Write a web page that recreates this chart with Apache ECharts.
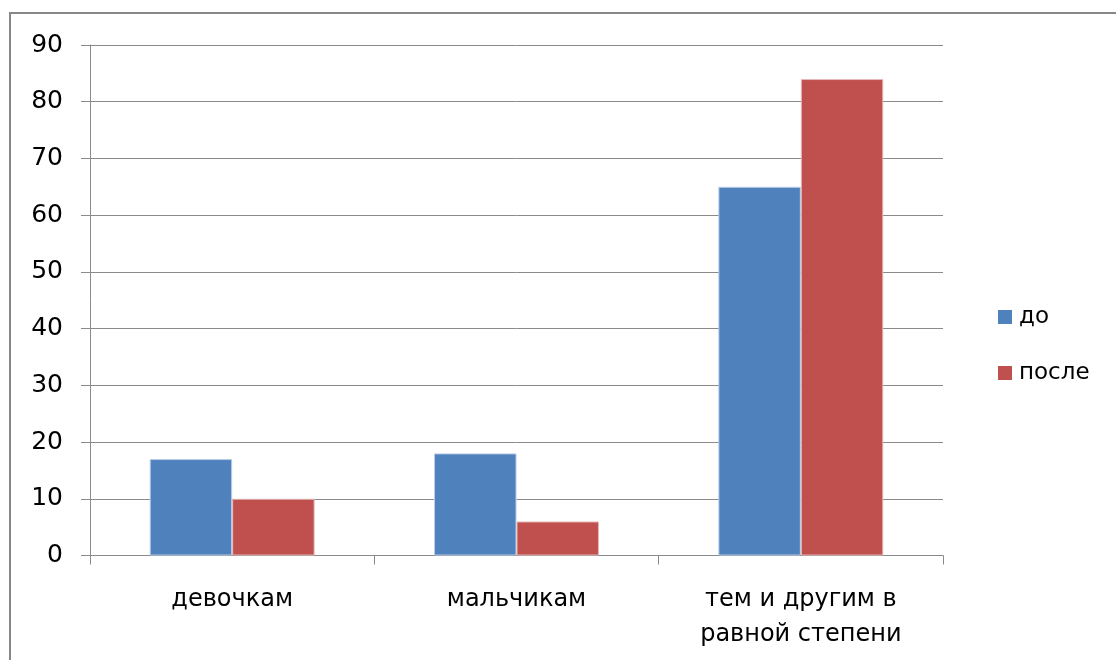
<!DOCTYPE html>
<html>
<head>
<meta charset="utf-8">
<script src="https://cdn.jsdelivr.net/npm/echarts@6/dist/echarts.min.js"></script>
<style>
html,body{margin:0;padding:0;background:#fff;}
#chart{width:1116px;height:660px;}
</style>
</head>
<body>
<div id="chart"></div>
<script>
const categories = ['девочкам', 'мальчикам', 'тем и другим в равной степени'];
const seriesNames = ['до', 'после'];
const valuesBefore = [17, 18, 65];
const valuesAfter = [10, 6, 84];
const yTicks = { min: 0, max: 90, interval: 10 };

const FONT = 'DejaVu Sans';
function wrapWords(text, maxChars) {
  const words = text.split(' ');
  const lines = [];
  let cur = '';
  words.forEach(w => {
    const next = cur ? cur + ' ' + w : w;
    if (next.length > maxChars && cur) { lines.push(cur); cur = w; }
    else cur = next;
  });
  if (cur) lines.push(cur);
  return lines.join('\n');
}

const chart = echarts.init(document.getElementById('chart'), null, { renderer: 'canvas' });
chart.setOption({
  backgroundColor: '#ffffff',
  animation: false,
  graphic: [{
    type: 'rect',
    shape: { x: 10, y: 13, width: 1200, height: 700 },
    style: { fill: 'none', stroke: '#878787', lineWidth: 2 },
    silent: true
  }],
  grid: { left: 90, right: 173, top: 45, bottom: 104.5, containLabel: false, outerBoundsMode: 'none' },
  legend: {
    orient: 'vertical',
    left: 993,
    top: 300,
    itemWidth: 14,
    itemHeight: 14,
    itemGap: 32,
    icon: 'rect',
    itemStyle: { borderWidth: 0 },
    textStyle: { fontFamily: FONT, fontSize: 23, color: '#000', lineHeight: 24, padding: [0, 0, 0, 2] },
    data: seriesNames
  },
  xAxis: {
    type: 'category',
    data: categories,
    axisLine: { lineStyle: { color: '#8a8a8a', width: 1 } },
    axisTick: { show: true, length: 9, alignWithLabel: false, lineStyle: { color: '#8a8a8a' } },
    axisLabel: {
      fontFamily: FONT, fontSize: 24, color: '#000', margin: 27,
      lineHeight: 35, interval: 0,
      formatter: v => wrapWords(v, 14)
    },
    splitLine: { show: false }
  },
  yAxis: {
    type: 'value',
    min: yTicks.min, max: yTicks.max, interval: yTicks.interval,
    axisLine: { show: true, lineStyle: { color: '#8a8a8a', width: 1 } },
    axisTick: { show: true, length: 9, lineStyle: { color: '#8a8a8a' } },
    axisLabel: { fontFamily: FONT, fontSize: 25, color: '#000', margin: 27 },
    splitLine: { show: true, lineStyle: { color: '#8a8a8a', width: 1 } }
  },
  series: [
    {
      name: seriesNames[0], type: 'bar', data: valuesBefore,
      barGap: '0%', barCategoryGap: '42%',
      itemStyle: { color: '#4F81BD', borderColor: '#b9cde8', borderWidth: 1 }
    },
    {
      name: seriesNames[1], type: 'bar', data: valuesAfter,
      barGap: '0%', barCategoryGap: '42%',
      itemStyle: { color: '#C0504D', borderColor: '#e6b9b8', borderWidth: 1 }
    }
  ]
});
</script>
</body>
</html>
